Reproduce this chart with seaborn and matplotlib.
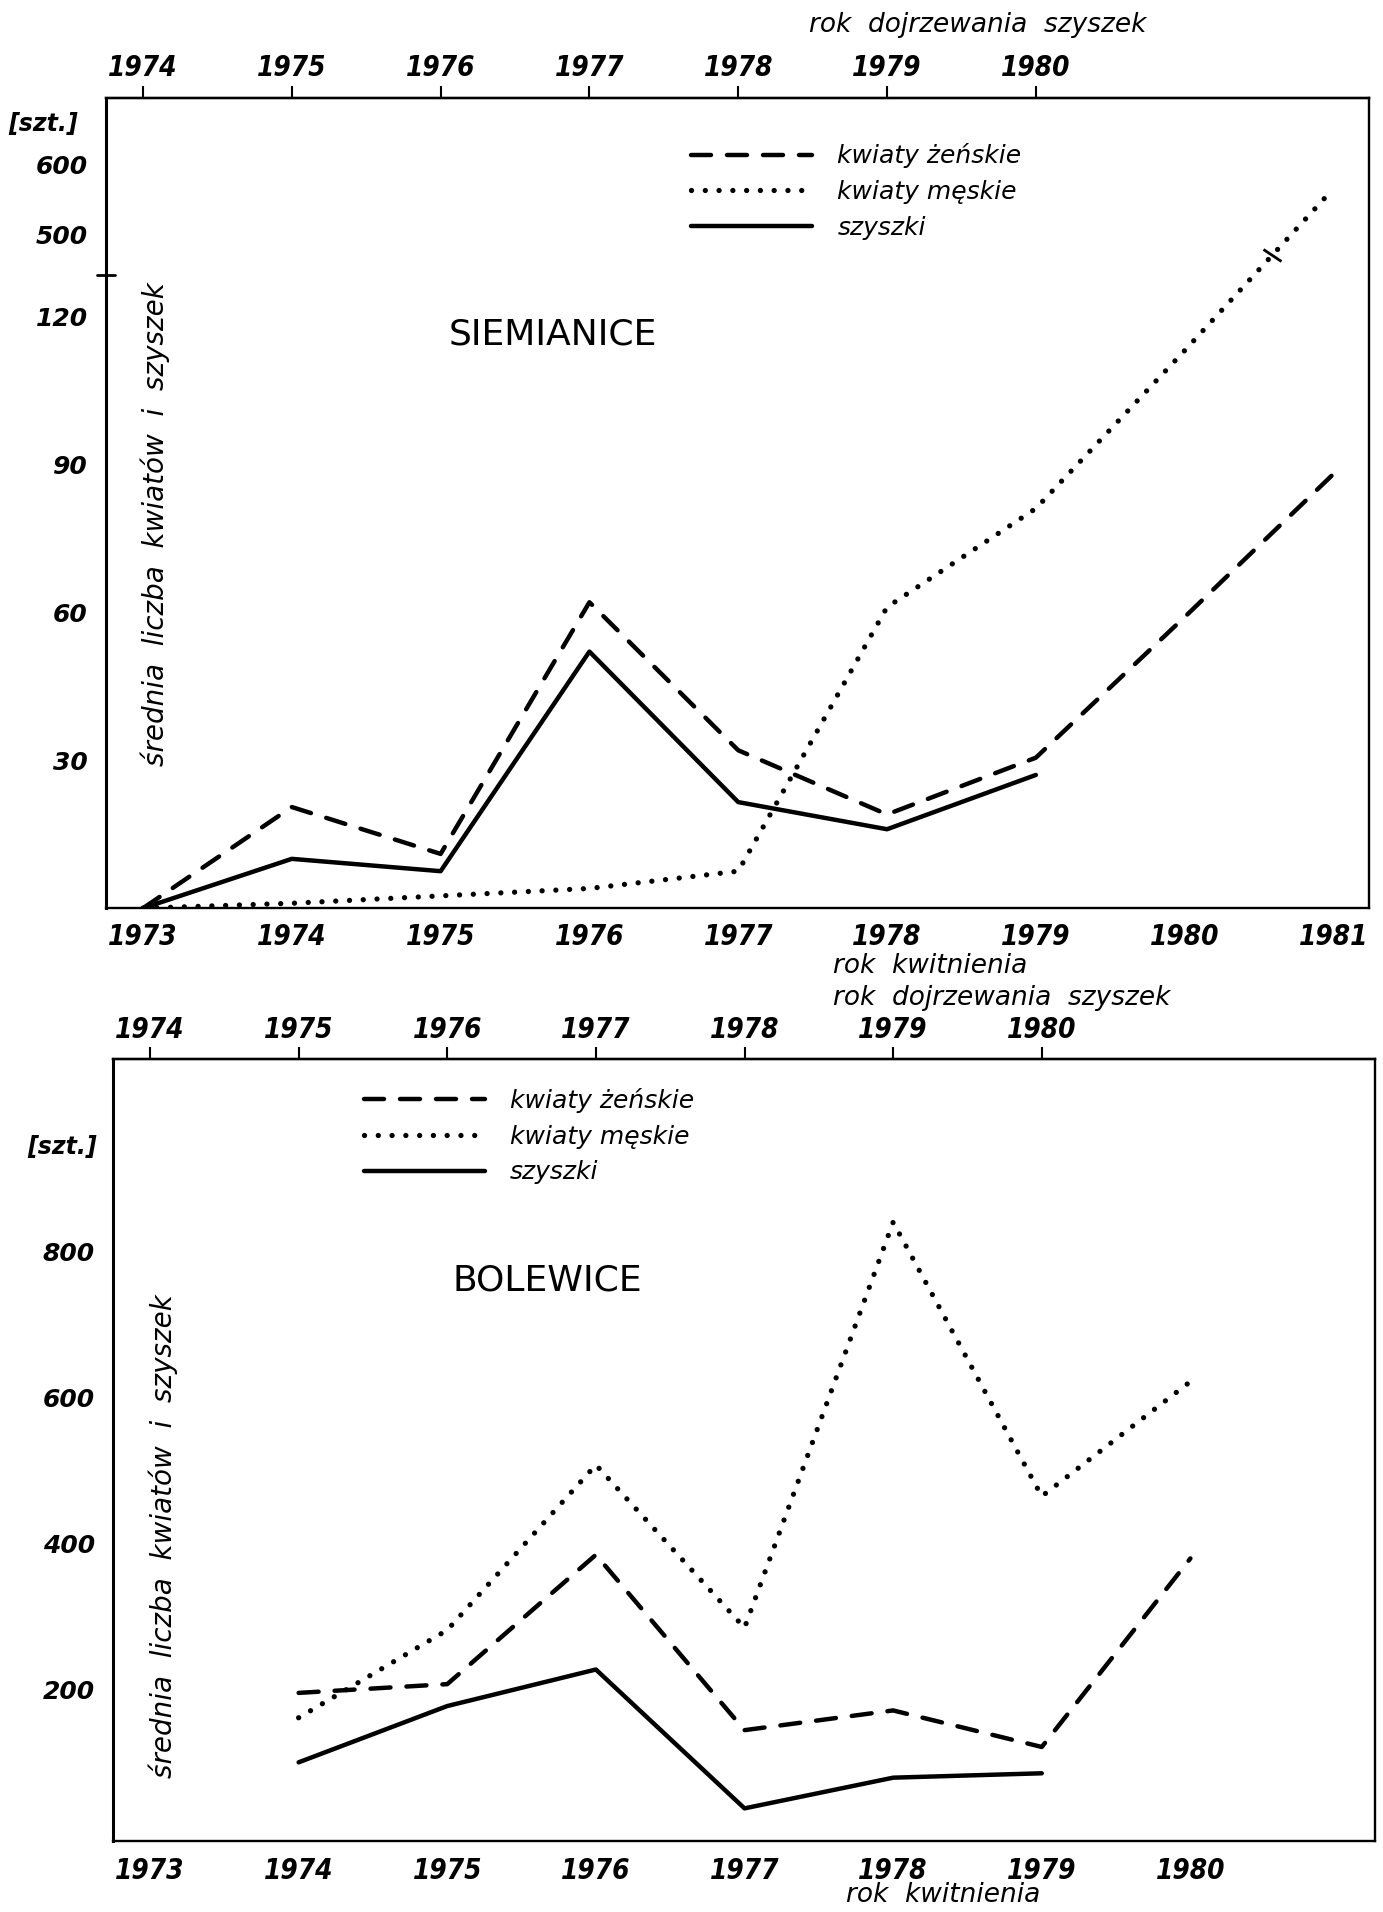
import numpy as np
import pandas as pd
import matplotlib
matplotlib.use('Agg')
import matplotlib.pyplot as plt
from matplotlib.markers import MarkerStyle
from matplotlib.transforms import Affine2D
import seaborn as sns
import warnings

warnings.filterwarnings('ignore')

# ============================================================
# DANE
# ============================================================
SERIE = ['kwiaty żeńskie', 'kwiaty męskie', 'szyszki']

# Siemianice - rok kwitnienia 1973-1981
SIEM_LATA = [1973, 1974, 1975, 1976, 1977, 1978, 1979, 1980, 1981]
SIEM_ZENSKIE = [0, 20.5, 11, 62, 32, 19, 30.5, 59, 88]
SIEM_MESKIE = [0, 1, 2.5, 4, 7.5, 61, 81, 113, 566]
SIEM_SZYSZKI = [0, 10, 7.5, 52, 21.5, 16, 27]          # 1973-1979

# Bolewice - rok kwitnienia 1974-1980
BOL_LATA = [1974, 1975, 1976, 1977, 1978, 1979, 1980]
BOL_ZENSKIE = [196, 208, 385, 145, 172, 122, 380]
BOL_MESKIE = [162, 282, 508, 285, 840, 465, 622]
BOL_SZYSZKI = [101, 178, 228, 38, 80, 86]              # 1974-1979

LATA_KWITNIENIA = [1973, 1974, 1975, 1976, 1977, 1978, 1979, 1980, 1981]
LATA_KWITNIENIA_BOL = [1973, 1974, 1975, 1976, 1977, 1978, 1979, 1980]
LATA_DOJRZEWANIA = [1974, 1975, 1976, 1977, 1978, 1979, 1980]

SIEM_YTICKS = [30, 60, 90, 120, 500, 600]
BOL_YTICKS = [200, 400, 600, 800]

# ============================================================
# STYL
# ============================================================
DASHES = {'kwiaty żeńskie': (4.5, 3.6), 'kwiaty męskie': (0.01, 3.0), 'szyszki': ''}
LW = 3.2
LW_DOTS = 3.8
FONT = ['DejaVu Sans']

# oś Y z przerwą (Siemianice): 0-128 liniowo, powyżej 444 ściśnięta
BREAK_LO, BREAK_HI, RATIO = 128.0, 444.0, 0.142
_V = [-1000.0, BREAK_LO, BREAK_HI, 5000.0]
_H = [-1000.0, BREAK_LO, BREAK_LO + 0.5, BREAK_LO + 0.5 + (5000.0 - BREAK_HI) * RATIO]


def fwd(v):
    return np.interp(np.asarray(v, dtype=float), _V, _H)


def inv(h):
    return np.interp(np.asarray(h, dtype=float), _H, _V)


def long_df(lata, zenskie, meskie, szyszki):
    parts = []
    for name, vals in zip(SERIE, [zenskie, meskie, szyszki]):
        parts.append(pd.DataFrame({'rok': lata[:len(vals)], 'liczba': vals, 'seria': name}))
    return pd.concat(parts, ignore_index=True)


def year_labels(axis_obj, years):
    axis_obj.set_xticklabels([str(t) for t in years], family=FONT, style='italic',
                             weight='bold', size=20, stretch='condensed')


def style_axes(ax, xticks, yticks):
    ax.set_xlim(1972.75, 1981.24)
    ax.set_xticks(xticks)
    year_labels(ax, xticks)
    ax.set_yticks(yticks)
    ax.set_yticklabels([str(t) for t in yticks], family=FONT, style='italic',
                       weight='bold', size=18)
    ax.minorticks_off()
    ax.tick_params(axis='x', direction='out', length=9, width=1.5, pad=2, colors='black')
    ax.tick_params(axis='y', direction='out', length=7, width=1.5, pad=6, colors='black')
    for side, sp in ax.spines.items():
        sp.set_visible(True)
        sp.set_color('black')
        sp.set_linewidth(2.2 if side == 'left' else 1.7)
    ax.set_xlabel('')
    ax.set_ylabel('')

    sec = ax.secondary_xaxis('top', functions=(lambda x: x + 1, lambda x: x - 1))
    sec.set_xticks(LATA_DOJRZEWANIA)
    year_labels(sec, LATA_DOJRZEWANIA)
    sec.tick_params(direction='out', length=9, width=1.5, pad=2, colors='black')
    sec.spines['top'].set_linewidth(1.7)


def draw(ax, df):
    sns.lineplot(data=df, x='rok', y='liczba', style='seria', style_order=SERIE,
                 dashes=DASHES, color='black', linewidth=LW, estimator=None,
                 sort=False, legend=False, ax=ax,
                 dash_capstyle='round', solid_capstyle='round', solid_joinstyle='round')
    # kropki kwiatów męskich nieco grubsze
    dots = ax.get_lines()[1]
    dots.set_linewidth(LW_DOTS)
    dots.set_dashes((0.01, 2.6))


def add_legend(ax, x, y):
    handles = ax.get_lines()[:3]
    leg = ax.legend(handles, SERIE, loc='upper left', bbox_to_anchor=(x, y),
                    bbox_transform=ax.figure.transFigure, frameon=False,
                    prop={'family': FONT, 'style': 'italic', 'size': 18},
                    handlelength=4.85, handletextpad=1.0, labelspacing=0.47,
                    borderpad=0, borderaxespad=0)
    for t in leg.get_texts():
        t.set_color('black')


sns.set_theme(style='white')
plt.rcParams['font.family'] = FONT
plt.rcParams['text.color'] = 'black'
plt.rcParams['axes.labelcolor'] = 'black'
plt.rcParams['xtick.color'] = 'black'
plt.rcParams['ytick.color'] = 'black'

fig = plt.figure(figsize=(13.83, 19.12), dpi=100)
fig.patch.set_facecolor('white')

# ------------------------------------------------------------
# SIEMIANICE
# ------------------------------------------------------------
ax1 = fig.add_axes([0.0765, 0.525, 0.9135, 0.424])
ax1.set_yscale('function', functions=(fwd, inv))
draw(ax1, long_df(SIEM_LATA, SIEM_ZENSKIE, SIEM_MESKIE, SIEM_SZYSZKI))
ax1.set_ylim(0, 696)
style_axes(ax1, LATA_KWITNIENIA, SIEM_YTICKS)
add_legend(ax1, 0.4998, 0.925)

# znak przerwy osi
mid = (BREAK_LO + BREAK_HI) / 2
ax1.plot([-0.007, 0.007], [mid, mid], transform=ax1.get_yaxis_transform(),
         color='black', lw=2, clip_on=False)
# znak przerwy na linii kwiatów męskich
h1, h2 = fwd(SIEM_MESKIE[-2]), fwd(SIEM_MESKIE[-1])
hb = fwd(471)
xb = SIEM_LATA[-2] + (hb - h1) / (h2 - h1)
ax1.plot([xb], [471], marker=MarkerStyle('_', transform=Affine2D().rotate_deg(-35)),
         markersize=15, mew=2, color='black')

ax1.text(0.354, 0.708, 'SIEMIANICE', transform=ax1.transAxes, family=FONT,
         size=26, ha='center', va='center')
ax1.text(0.039, 0.474, 'średnia  liczba  kwiatów  i  szyszek', transform=ax1.transAxes,
         family=FONT, style='italic', size=20, rotation=90, ha='center', va='center')

fig.text(0.006, 0.935, '[szt.]', family=FONT, style='italic', weight='bold',
         size=17, ha='left', va='center')
fig.text(0.585, 0.987, 'rok  dojrzewania  szyszek', family=FONT, style='italic',
         size=19, ha='left', va='center')
fig.text(0.602, 0.495, 'rok  kwitnienia', family=FONT, style='italic',
         size=19, ha='left', va='center')

# ------------------------------------------------------------
# BOLEWICE
# ------------------------------------------------------------
ax2 = fig.add_axes([0.0816, 0.037, 0.9124, 0.409])
draw(ax2, long_df(BOL_LATA, BOL_ZENSKIE, BOL_MESKIE, BOL_SZYSZKI))
ax2.set_ylim(-7, 1063)
style_axes(ax2, LATA_KWITNIENIA_BOL, BOL_YTICKS)
add_legend(ax2, 0.263, 0.431)

ax2.text(0.344, 0.7176, 'BOLEWICE', transform=ax2.transAxes, family=FONT,
         size=26, ha='center', va='center')
ax2.text(0.04, 0.39, 'średnia  liczba  kwiatów  i  szyszek', transform=ax2.transAxes,
         family=FONT, style='italic', size=20, rotation=90, ha='center', va='center')

fig.text(0.02, 0.400, '[szt.]', family=FONT, style='italic', weight='bold',
         size=17, ha='left', va='center')
fig.text(0.602, 0.478, 'rok  dojrzewania  szyszek', family=FONT, style='italic',
         size=19, ha='left', va='center')
fig.text(0.612, 0.009, 'rok  kwitnienia', family=FONT, style='italic',
         size=19, ha='left', va='center')

fig.savefig('out.png', dpi=100, facecolor='white')
